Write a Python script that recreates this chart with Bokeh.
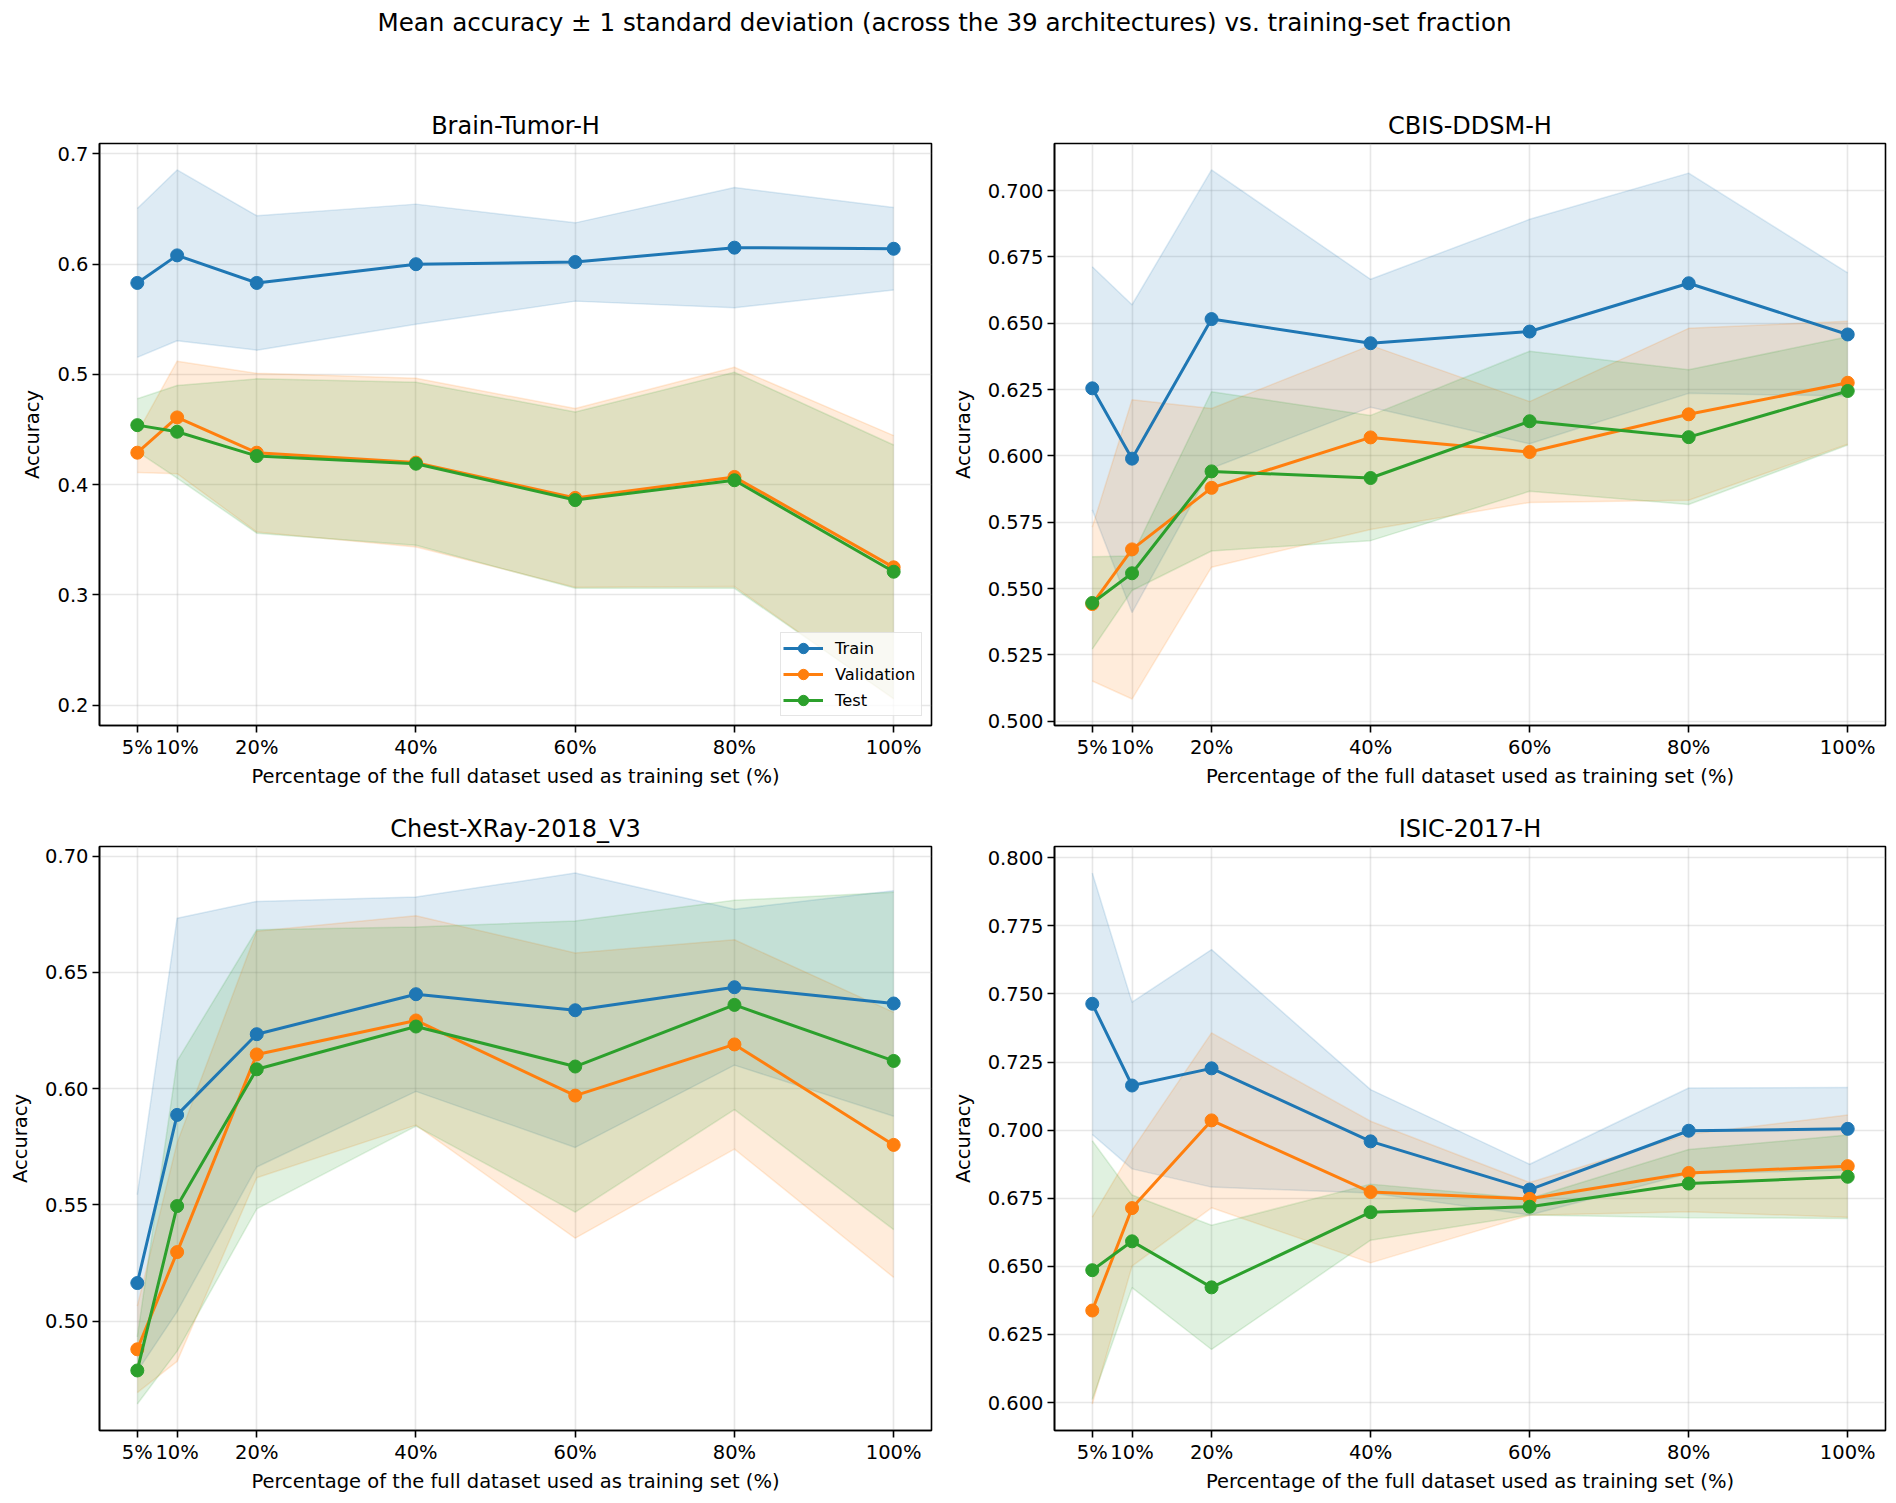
import numpy as np
from bokeh.plotting import figure
from bokeh.layouts import column, row
from bokeh.models import Range1d, FixedTicker, PrintfTickFormatter
from bokeh.embed import file_html
from bokeh.resources import INLINE

# ---------------- data ----------------
pct = [5, 10, 20, 40, 60, 80, 100]
pct_labels = ["5%", "10%", "20%", "40%", "60%", "80%", "100%"]
split_names = ["Train", "Validation", "Test"]

suptitle = "Mean accuracy \u00b1 1 standard deviation (across the 39 architectures) vs. training-set fraction"
x_label = "Percentage of the full dataset used as training set (%)"
y_label = "Accuracy"

brain_title = "Brain-Tumor-H"
brain_train_mean = [0.583, 0.608, 0.583, 0.600, 0.602, 0.615, 0.614]
brain_train_std = [0.0675, 0.0775, 0.061, 0.0545, 0.0355, 0.0545, 0.0375]
brain_val_mean = [0.429, 0.461, 0.429, 0.420, 0.388, 0.407, 0.325]
brain_val_std = [0.018, 0.051, 0.072, 0.0765, 0.081, 0.0995, 0.1195]
brain_test_mean = [0.454, 0.448, 0.426, 0.419, 0.386, 0.404, 0.321]
brain_test_std = [0.024, 0.042, 0.070, 0.074, 0.080, 0.098, 0.115]
brain_yticks = [0.2, 0.3, 0.4, 0.5, 0.6, 0.7]

cbis_title = "CBIS-DDSM-H"
cbis_train_mean = [0.6255, 0.599, 0.6516, 0.6425, 0.6469, 0.6651, 0.6458]
cbis_train_std = [0.0458, 0.058, 0.0562, 0.0241, 0.0423, 0.0415, 0.0232]
cbis_val_mean = [0.5442, 0.5648, 0.588, 0.607, 0.6015, 0.6157, 0.6276]
cbis_val_std = [0.029, 0.0564, 0.0299, 0.0347, 0.019, 0.0324, 0.0232]
cbis_test_mean = [0.5446, 0.5558, 0.5942, 0.5917, 0.6131, 0.6071, 0.6245]
cbis_test_std = [0.0174, 0.0065, 0.030, 0.0236, 0.0264, 0.0254, 0.0204]
cbis_yticks = [0.500, 0.525, 0.550, 0.575, 0.600, 0.625, 0.650, 0.675, 0.700]

chest_title = "Chest-XRay-2018_V3"
chest_train_mean = [0.5164, 0.5887, 0.6234, 0.6406, 0.6337, 0.6436, 0.6366]
chest_train_std = [0.038, 0.0846, 0.0571, 0.0418, 0.059, 0.0335, 0.0485]
chest_val_mean = [0.4879, 0.5297, 0.6147, 0.6293, 0.597, 0.619, 0.5758]
chest_val_std = [0.0186, 0.047, 0.053, 0.045, 0.0613, 0.045, 0.057]
chest_test_mean = [0.4788, 0.5495, 0.6083, 0.6267, 0.6095, 0.636, 0.6119]
chest_test_std = [0.0144, 0.0624, 0.060, 0.0428, 0.0626, 0.045, 0.0725]
chest_yticks = [0.50, 0.55, 0.60, 0.65, 0.70]

isic_title = "ISIC-2017-H"
isic_train_mean = [0.7464, 0.7164, 0.7227, 0.6959, 0.6782, 0.6998, 0.7005]
isic_train_std = [0.048, 0.0306, 0.0436, 0.019, 0.0093, 0.0157, 0.0152]
isic_val_mean = [0.6338, 0.6714, 0.7036, 0.6773, 0.6748, 0.6843, 0.6868]
isic_val_std = [0.0343, 0.0213, 0.0321, 0.026, 0.006, 0.0142, 0.0188]
isic_test_mean = [0.6486, 0.6592, 0.6423, 0.6699, 0.6719, 0.6804, 0.6829]
isic_test_std = [0.0475, 0.017, 0.0228, 0.0103, 0.003, 0.0125, 0.0153]
isic_yticks = [0.600, 0.625, 0.650, 0.675, 0.700, 0.725, 0.750, 0.775, 0.800]

# ---------------- style ----------------
FONT = "DejaVu Sans"
COLORS = ["#1f77b4", "#ff7f0e", "#2ca02c"]
TICK_FS = "19.5px"
TITLE_FS = "24px"


def make_panel(title, means, stds, yticks, yfmt, width, height, borders, legend=False):
    left, right, top, bottom = borders
    x = np.array(pct, dtype=float)
    lows = [np.array(m) - np.array(s) for m, s in zip(means, stds)]
    highs = [np.array(m) + np.array(s) for m, s in zip(means, stds)]
    lo = min(a.min() for a in lows)
    hi = max(a.max() for a in highs)
    pad = 0.05 * (hi - lo)
    xpad = 0.05 * (x.max() - x.min())

    p = figure(width=width, height=height, toolbar_location=None, output_backend="svg",
               x_range=Range1d(x.min() - xpad, x.max() + xpad),
               y_range=Range1d(lo - pad, hi + pad),
               min_border_left=left, min_border_right=right,
               min_border_top=top, min_border_bottom=bottom)
    p.background_fill_color = "white"
    p.border_fill_color = "white"
    p.outline_line_color = "black"
    p.outline_line_width = 1.6

    p.title.text = title
    p.title.align = "center"
    p.title.text_font = FONT
    p.title.text_font_size = TITLE_FS
    p.title.text_font_style = "normal"
    p.title.text_color = "black"
    p.title.standoff = 8

    xt = FixedTicker(ticks=pct)
    yt = FixedTicker(ticks=yticks)
    p.xaxis.ticker = xt
    p.yaxis.ticker = yt
    p.xgrid.ticker = xt
    p.ygrid.ticker = yt
    p.xaxis.major_label_overrides = {v: s for v, s in zip(pct, pct_labels)}
    p.yaxis.formatter = PrintfTickFormatter(format=yfmt)
    for ax in (p.xaxis, p.yaxis):
        ax.axis_line_color = "black"
        ax.axis_line_width = 1.6
        ax.major_tick_line_color = "black"
        ax.major_tick_line_width = 1.6
        ax.major_tick_out = 7
        ax.major_tick_in = 0
        ax.minor_tick_line_color = None
        ax.major_label_text_font = FONT
        ax.major_label_text_font_size = TICK_FS
        ax.major_label_text_color = "black"
        ax.axis_label_text_font = FONT
        ax.axis_label_text_font_size = TICK_FS
        ax.axis_label_text_font_style = "normal"
        ax.axis_label_text_color = "black"
    p.xaxis.major_label_standoff = 3
    p.xaxis.axis_label_standoff = 3
    p.yaxis.major_label_standoff = 4
    p.yaxis.axis_label_standoff = 10
    p.xaxis.axis_label = x_label
    p.yaxis.axis_label = y_label
    for g in (p.xgrid, p.ygrid):
        g.grid_line_color = "#b0b0b0"
        g.grid_line_alpha = 0.3
        g.grid_line_width = 1.6

    for lw, hg, c in zip(lows, highs, COLORS):
        p.varea(x=x, y1=lw, y2=hg, fill_color=c, fill_alpha=0.15)
        p.line(x, lw, line_color=c, line_alpha=0.15, line_width=1.5)
        p.line(x, hg, line_color=c, line_alpha=0.15, line_width=1.5)

    for m, c, name in zip(means, COLORS, split_names):
        if legend:
            p.line(x, m, line_color=c, line_width=3, legend_label=name)
            p.scatter(x, m, size=13, fill_color=c, line_color=c, legend_label=name)
        else:
            p.line(x, m, line_color=c, line_width=3)
            p.scatter(x, m, size=13, fill_color=c, line_color=c)

    if legend:
        lg = p.legend[0]
        lg.location = "bottom_right"
        lg.margin = 9
        lg.padding = 2
        lg.spacing = 0
        lg.glyph_width = 40
        lg.glyph_height = 26
        lg.label_height = 26
        lg.label_width = 84
        lg.label_standoff = 12
        lg.label_text_font = FONT
        lg.label_text_font_size = "16.3px"
        lg.label_text_color = "black"
        lg.border_line_color = "#cccccc"
        lg.border_line_width = 1.5
        lg.background_fill_alpha = 0.8
    return p


# header with the figure title
p0 = figure(width=1888, height=60, toolbar_location=None, output_backend="svg",
            x_range=Range1d(0, 1), y_range=Range1d(0, 1),
            min_border_left=0, min_border_right=0, min_border_top=36, min_border_bottom=0)
p0.title.text = suptitle
p0.title.align = "center"
p0.title.text_font = FONT
p0.title.text_font_size = "24.6px"
p0.title.text_font_style = "normal"
p0.title.text_color = "black"
p0.title.standoff = 0
p0.title.offset = 0
p0.axis.visible = False
p0.grid.visible = False
p0.outline_line_color = None
p0.background_fill_color = "white"
p0.border_fill_color = "white"

p1 = make_panel(brain_title, [brain_train_mean, brain_val_mean, brain_test_mean],
                [brain_train_std, brain_val_std, brain_test_std], brain_yticks, "%.1f",
                945, 730, (99, 14, 83, 63), legend=True)
p2 = make_panel(cbis_title, [cbis_train_mean, cbis_val_mean, cbis_test_mean],
                [cbis_train_std, cbis_val_std, cbis_test_std], cbis_yticks, "%.3f",
                943, 730, (109, 3, 83, 63))
p3 = make_panel(chest_title, [chest_train_mean, chest_val_mean, chest_test_mean],
                [chest_train_std, chest_val_std, chest_test_std], chest_yticks, "%.2f",
                945, 705, (99, 14, 56, 65))
p4 = make_panel(isic_title, [isic_train_mean, isic_val_mean, isic_test_mean],
                [isic_train_std, isic_val_std, isic_test_std], isic_yticks, "%.3f",
                943, 705, (109, 3, 56, 65))

layout = column(p0, row(p1, p2), row(p3, p4))
open("out.html", "w").write(file_html(layout, INLINE))
